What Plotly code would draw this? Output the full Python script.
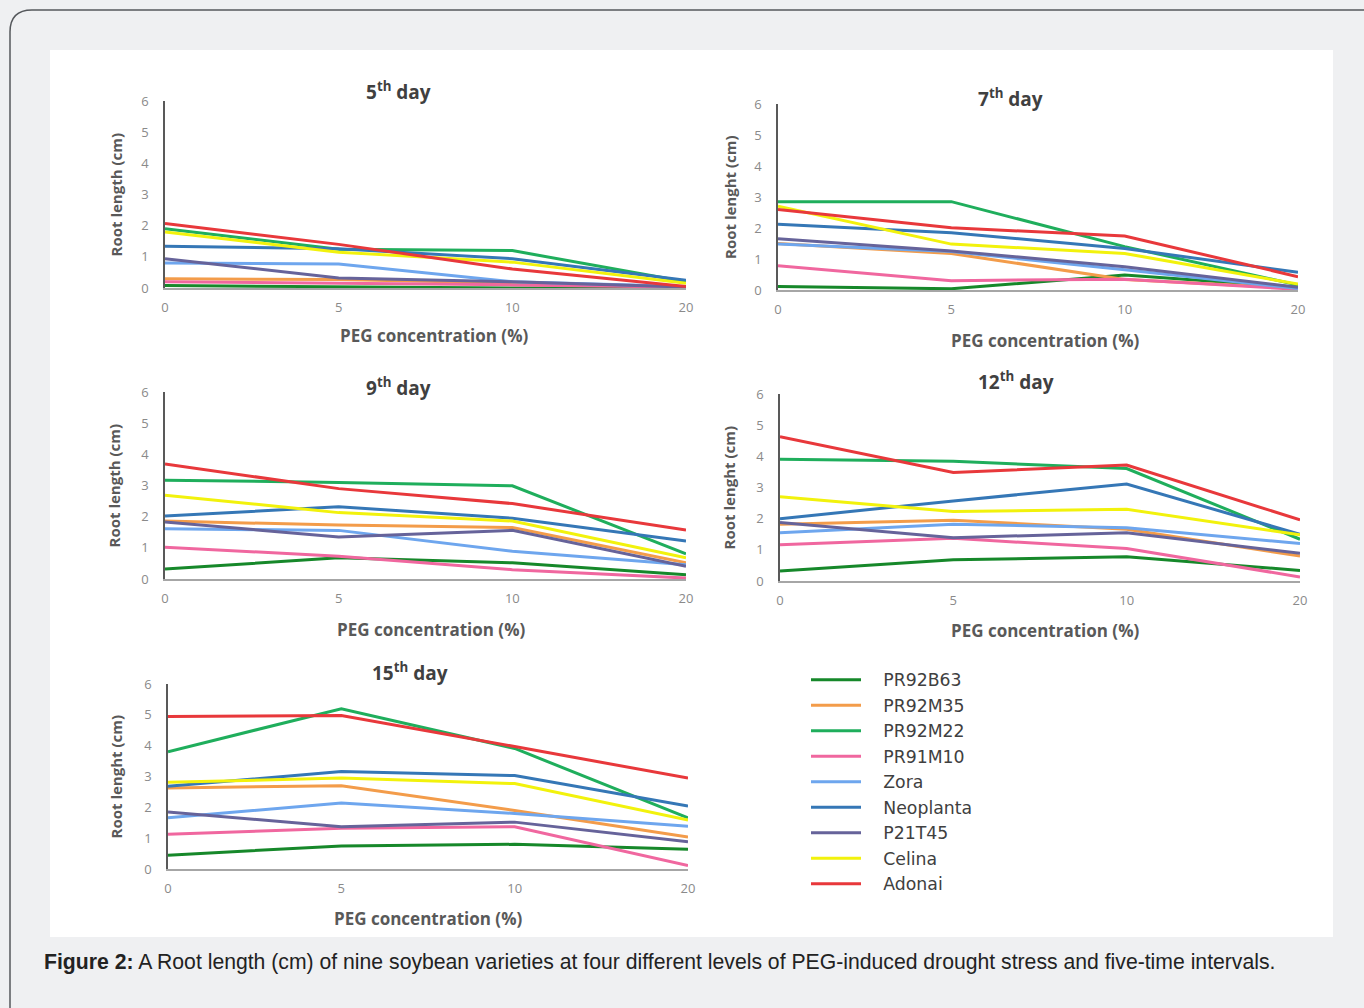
import plotly.graph_objects as go

W, H = 1364, 1008

peg = ["0", "5", "10", "20"]
varieties = ["PR92B63", "PR92M35", "PR92M22", "PR91M10", "Zora",
             "Neoplanta", "P21T45", "Celina", "Adonai"]
colors = ["#16882a", "#f39c4a", "#1fae5c", "#f0679f", "#6ea6ee",
          "#3577b6", "#66639a", "#f2f20c", "#e8383b"]

day5 = {
    "PR92B63": [0.08, 0.03, 0.0, 0.0],
    "PR92M35": [0.30, 0.27, 0.16, 0.03],
    "PR92M22": [1.90, 1.24, 1.20, 0.20],
    "PR91M10": [0.20, 0.16, 0.10, 0.03],
    "Zora": [0.80, 0.77, 0.20, 0.05],
    "Neoplanta": [1.34, 1.26, 0.94, 0.25],
    "P21T45": [0.94, 0.32, 0.20, 0.03],
    "Celina": [1.80, 1.15, 0.83, 0.15],
    "Adonai": [2.07, 1.40, 0.61, 0.05],
}
day7 = {
    "PR92B63": [0.11, 0.04, 0.48, 0.09],
    "PR92M35": [1.50, 1.18, 0.34, 0.05],
    "PR92M22": [2.85, 2.85, 1.40, 0.16],
    "PR91M10": [0.78, 0.30, 0.35, 0.02],
    "Zora": [1.48, 1.24, 0.65, 0.05],
    "Neoplanta": [2.12, 1.85, 1.34, 0.57],
    "P21T45": [1.65, 1.26, 0.75, 0.09],
    "Celina": [2.70, 1.48, 1.18, 0.19],
    "Adonai": [2.60, 2.01, 1.74, 0.43],
}
day9 = {
    "PR92B63": [0.32, 0.68, 0.52, 0.14],
    "PR92M35": [1.86, 1.73, 1.65, 0.52],
    "PR92M22": [3.17, 3.10, 2.99, 0.81],
    "PR91M10": [1.02, 0.73, 0.30, 0.03],
    "Zora": [1.61, 1.56, 0.89, 0.46],
    "Neoplanta": [2.02, 2.32, 1.95, 1.22],
    "P21T45": [1.83, 1.35, 1.56, 0.41],
    "Celina": [2.69, 2.13, 1.86, 0.68],
    "Adonai": [3.69, 2.90, 2.42, 1.57],
}
day12 = {
    "PR92B63": [0.32, 0.68, 0.78, 0.34],
    "PR92M35": [1.82, 1.95, 1.66, 0.80],
    "PR92M22": [3.91, 3.84, 3.61, 1.34],
    "PR91M10": [1.16, 1.37, 1.04, 0.13],
    "Zora": [1.55, 1.82, 1.71, 1.20],
    "Neoplanta": [2.00, 2.57, 3.11, 1.50],
    "P21T45": [1.88, 1.39, 1.55, 0.89],
    "Celina": [2.70, 2.23, 2.30, 1.48],
    "Adonai": [4.63, 3.48, 3.72, 1.96],
}
day15 = {
    "PR92B63": [0.45, 0.75, 0.80, 0.64],
    "PR92M35": [2.63, 2.70, 1.90, 1.04],
    "PR92M22": [3.80, 5.20, 3.91, 1.66],
    "PR91M10": [1.13, 1.32, 1.37, 0.11],
    "Zora": [1.66, 2.14, 1.80, 1.39],
    "Neoplanta": [2.68, 3.16, 3.03, 2.04],
    "P21T45": [1.85, 1.37, 1.52, 0.88],
    "Celina": [2.81, 2.95, 2.77, 1.59],
    "Adonai": [4.95, 4.98, 3.97, 2.95],
}

panels = [
    # data, title, ylabel, x0,x1, ytop,ybottom, ylabel x, title x, title y, xtitle x, xtitle y
    (day5, "5<sup>th</sup> day", "Root length (cm)", 165, 686, 101, 288, 116, 398, 91, 434, 336),
    (day7, "7<sup>th</sup> day", "Root lenght (cm)", 778, 1298, 104, 290, 730, 1010, 98, 1045, 340),
    (day9, "9<sup>th</sup> day", "Root length (cm)", 165, 686, 392, 579, 114, 398, 387, 431, 629),
    (day12, "12<sup>th</sup> day", "Root lenght (cm)", 780, 1300, 394, 581, 729, 1016, 381, 1045, 630),
    (day15, "15<sup>th</sup> day", "Root lenght (cm)", 168, 688, 684, 869, 115, 410, 672, 428, 918),
]

def px(x):
    return x / W

def py(y):
    return 1 - y / H

fig = go.Figure()
ann = []
layout_axes = {}
TICKFONT = dict(family="Open Sans, sans-serif", size=13, color="#8a8a8a")
LABFONT = dict(family="Open Sans, sans-serif", size=15, color="#595959")

for i, (data, title, ylab, x0, x1, yt, yb, ylx, tx, ty, xtx, xty) in enumerate(panels):
    n = "" if i == 0 else str(i + 1)
    for v, c in zip(varieties, colors):
        fig.add_trace(go.Scatter(
            x=peg, y=data[v], mode="lines", name="\u2003" + v,
            line=dict(color=c, width=3),
            xaxis="x" + n, yaxis="y" + n,
            showlegend=(i == 0), legendgroup=v,
        ))
    layout_axes["xaxis" + n] = dict(
        domain=[px(x0), px(x1)], anchor="y" + n, type="category",
        range=[0, 3], showgrid=False, zeroline=False, showline=True,
        linecolor="#a6a6a6", linewidth=1.5, ticks="", tickfont=TICKFONT,
        ticklabelstandoff=7, fixedrange=True,
    )
    layout_axes["yaxis" + n] = dict(
        domain=[py(yb), py(yt)], anchor="x" + n, range=[0, 6], dtick=1,
        showgrid=False, zeroline=False, showline=True, linecolor="#595959",
        linewidth=1.5, ticks="", tickfont=TICKFONT, ticklabelstandoff=12,
        fixedrange=True,
    )
    ann.append(dict(x=px(tx), y=py(ty), xref="paper", yref="paper",
                    text="<b>" + title + "</b>", showarrow=False,
                    font=dict(family="Open Sans, sans-serif", size=19, color="#404040"),
                    xanchor="center", yanchor="middle"))
    ann.append(dict(x=px(xtx), y=py(xty), xref="paper", yref="paper",
                    text="<b>PEG concentration (%)</b>", showarrow=False,
                    font=dict(family="Open Sans, sans-serif", size=17, color="#595959"),
                    xanchor="center", yanchor="middle"))
    ann.append(dict(x=px(ylx), y=py((yt + yb) / 2), xref="paper", yref="paper",
                    text="<b>" + ylab + "</b>", showarrow=False, textangle=-90,
                    font=LABFONT, xanchor="center", yanchor="middle"))

ann.append(dict(x=px(42), y=py(962), xref="paper", yref="paper",
                text="<b>Figure 2:</b> A Root length (cm) of nine soybean varieties at four different levels of PEG-induced drought stress and five-time intervals.",
                showarrow=False, xanchor="left", yanchor="middle",
                font=dict(family="Liberation Sans, Arial, sans-serif",
                          size=21.2, color="#222222")))

# outer rounded frame
r = 22
frame = (f"M {px(10)},{py(1030)} L {px(10)},{py(10 + r)} "
         f"Q {px(10)},{py(10)} {px(10 + r)},{py(10)} L {px(1380)},{py(10)}")
shapes = [
    dict(type="path", xref="paper", yref="paper", path=frame,
         line=dict(color="#55585c", width=1.5), layer="below"),
    dict(type="rect", xref="paper", yref="paper", x0=px(50), x1=px(1333),
         y0=py(937), y1=py(50), fillcolor="white", line=dict(width=0),
         layer="below"),
]

fig.update_layout(
    width=W, height=H, margin=dict(l=0, r=0, t=0, b=0, autoexpand=False),
    paper_bgcolor="#eff0f2", plot_bgcolor="rgba(0,0,0,0)",
    annotations=ann, shapes=shapes,
    legend=dict(x=px(806), y=py(662), xanchor="left", yanchor="top",
                bgcolor="rgba(0,0,0,0)", font=dict(family="DejaVu Sans, sans-serif",
                size=17.3, color="#404040"), tracegroupgap=0, itemwidth=50),
    **layout_axes,
)

fig.write_html("out.html")
